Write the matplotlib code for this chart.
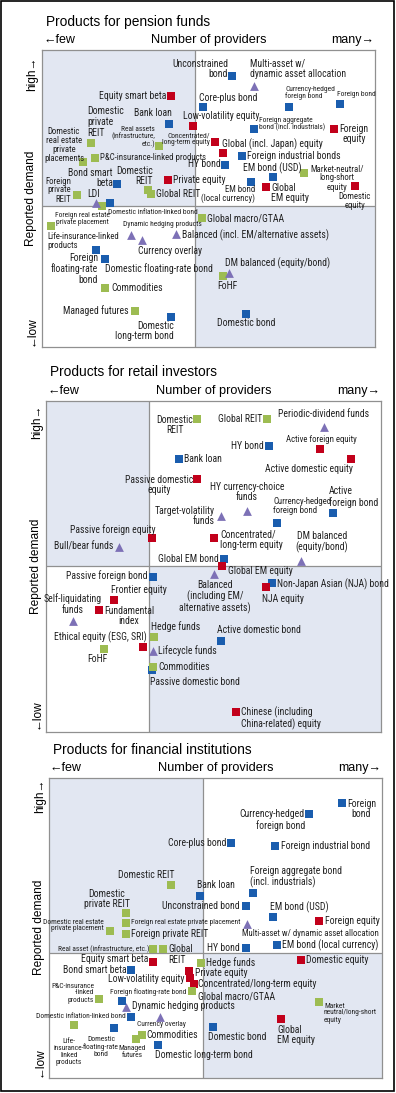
"""
Demand vs. number of providers for investment products (three quadrant panels)
"""
import matplotlib
matplotlib.use("Agg")
import matplotlib.pyplot as plt
from matplotlib import font_manager
from matplotlib.patches import Rectangle

# ---------------- data ----------------
# x = number of providers (score), y = reported demand (score)

pension_names = ["Equity smart beta", "Bank loan", "Low-volatility equity", "Domestic\nprivate\nREIT",
                 "Domestic\nreal estate\nprivate\nplacements", "Real assets\n(infrastructure,\netc.)",
                 "P&C-insurance-linked products", "Concentrated/\nlong-term equity", "Global (incl. Japan) equity",
                 "HY bond", "Unconstrained\nbond", "Multi-asset w/\ndynamic asset allocation",
                 "Currency-hedged\nforeign bond", "Foreign bond", "Core-plus bond",
                 "Foreign aggregate\nbond (incl. industrials)", "Foreign\nequity", "Foreign industrial bonds",
                 "EM bond (USD)", "Market-neutral/\nlong-short\nequity", "EM bond\n(local currency)",
                 "Global\nEM equity", "Domestic\nequity", "Global macro/GTAA",
                 "Balanced (incl. EM/alternative assets)", "DM balanced (equity/bond)", "FoHF", "Domestic bond",
                 "Foreign\nprivate\nREIT", "Bond smart\nbeta", "Domestic\nREIT", "Global REIT", "Private equity",
                 "LDI", "Domestic inflation-linked bond", "Foreign real estate\nprivate placement",
                 "Life-insurance-linked\nproducts", "Dynamic hedging products", "Currency overlay",
                 "Foreign\nfloating-rate\nbond", "Domestic floating-rate bond", "Commodities", "Managed futures",
                 "Domestic\nlong-term bond"]
pension_x = [129, 127, 151, 49, 41, 117, 53, 173, 181, 183, 190, 212, 247, 298, 161, 212, 292, 200, 231, 262,
             209, 224, 313, 160, 134, 187, 181, 204, 35, 75, 106, 109, 126, 54, 68, 60, 9, 89, 100, 54, 63, 63,
             93, 129]
pension_y = [251, 223, 221, 204, 185, 201, 189, 205, 194, 182, 271, 261, 240, 243, 240, 218, 218, 191, 170, 174,
             165, 160, 161, 129, 113, 74, 71, 33, 152, 163, 157, 153, 167, 144, 144, 141, 121, 112, 107, 97, 88,
             59, 36, 30]
pension_kind = ["equity", "bond", "equity", "alt", "alt", "alt", "alt", "equity", "equity", "bond", "bond",
                "multi", "bond", "bond", "bond", "bond", "equity", "bond", "bond", "alt", "bond", "equity",
                "equity", "alt", "multi", "multi", "alt", "bond", "alt", "bond", "alt", "alt", "equity", "multi",
                "bond", "alt", "alt", "multi", "multi", "bond", "bond", "alt", "alt", "bond"]

retail_names = ["Domestic\nREIT", "Bank loan", "Passive domestic\nequity", "Target-volatility\nfunds",
                "Passive foreign equity", "Global REIT", "Periodic-dividend funds", "HY bond",
                "Active foreign equity", "Active domestic equity", "HY currency-choice\nfunds",
                "Currency-hedged\nforeign bond", "Active\nforeign bond", "Concentrated/\nlong-term equity",
                "DM balanced\n(equity/bond)", "Global EM bond", "Global EM equity",
                "Balanced\n(including EM/\nalternative assets)", "Non-Japan Asian (NJA) bond", "NJA equity",
                "Active domestic bond", "Chinese (including\nChina-related) equity", "Bull/bear funds",
                "Passive foreign bond", "Frontier equity", "Fundamental\nindex", "Self-liquidating\nfunds",
                "Hedge funds", "Ethical equity (ESG, SRI)", "FoHF", "Lifecycle funds", "Commodities",
                "Passive domestic bond"]
retail_x = [151, 133, 151, 175, 106, 221, 278, 223, 274, 305, 201, 231, 287, 168, 255, 178, 176, 168, 226, 220,
            175, 190, 73, 107, 68, 53, 27, 108, 97, 58, 107, 107, 106]
retail_y = [313, 273, 253, 216, 194, 313, 305, 286, 283, 273, 221, 209, 219, 194, 171, 173, 166, 158, 149, 145,
            91, 20, 185, 155, 132, 122, 111, 95, 85, 83, 81, 65, 62]
retail_kind = ["alt", "bond", "equity", "multi", "equity", "alt", "multi", "bond", "equity", "equity", "multi",
               "bond", "bond", "equity", "multi", "bond", "equity", "multi", "bond", "equity", "bond", "equity",
               "multi", "bond", "equity", "equity", "multi", "alt", "equity", "alt", "multi", "alt", "bond"]

inst_names = ["Foreign\nbond", "Currency-hedged\nforeign bond", "Core-plus bond", "Foreign industrial bond",
              "Foreign aggregate bond\n(incl. industrials)", "Bank loan", "Domestic REIT", "Domestic\nprivate REIT",
              "Unconstrained bond", "EM bond (USD)", "Foreign equity", "Multi-asset w/ dynamic asset allocation",
              "EM bond (local currency)", "HY bond", "Domestic real estate\nprivate placement",
              "Foreign real estate private placement", "Foreign private REIT", "Real asset (infrastructure, etc.)",
              "Global\nREIT", "Domestic equity", "Equity smart beta", "Hedge funds", "Bond smart beta",
              "Private equity", "Low-volatility equity", "Concentrated/long-term equity", "Global macro/GTAA",
              "P&C-insurance\n-linked\nproducts", "Foreign floating-rate bond", "Dynamic hedging products",
              "Domestic inflation-linked bond", "Currency overlay", "Life-\ninsurance-\nlinked\nproducts",
              "Domestic\nfloating-rate\nbond", "Commodities", "Managed\nfutures", "Domestic long-term bond",
              "Domestic bond", "Global\nEM equity", "Market\nneutral/long-short\nequity"]
inst_x = [293, 260, 182, 226, 204, 151, 122, 77, 197, 224, 270, 198, 228, 197, 61, 77, 77, 104, 114, 252, 104,
          152, 82, 140, 141, 145, 143, 50, 73, 77, 82, 111, 25, 65, 93, 87, 109, 164, 232, 270]
inst_y = [275, 264, 235, 232, 185, 182, 193, 165, 172, 161, 157, 154, 133, 130, 147, 155, 144, 129, 129, 118, 116,
          115, 108, 107, 100, 94, 87, 79, 77, 71, 61, 61, 53, 50, 43, 39, 33, 51, 59, 76]
inst_kind = ["bond", "bond", "bond", "bond", "bond", "bond", "alt", "alt", "bond", "bond", "equity", "multi",
             "bond", "bond", "alt", "alt", "alt", "alt", "alt", "equity", "equity", "alt", "bond", "equity",
             "equity", "equity", "alt", "alt", "bond", "multi", "bond", "multi", "alt", "bond", "alt", "alt",
             "bond", "bond", "equity", "alt"]

# ---------------- layout ----------------
# label offsets from marker in pixels: (dx, dy, ha, size, multialignment)
pension_labels = [(-5, 0, "right", "n", None), (-16, 11, "center", "n", None), (-10, 10, "left", "n", None),
                  (-4, 21, "left", "n", None), (-19, 17, "center", "m", None), (-4, 9, "right", "s", None),
                  (5, 0, "left", "m", None), (-5, 3, "right", "s", None), (-1, 9, "left", "n", None),
                  (-4, 1, "right", "n", None), (-4, 7, "right", "n", None), (-4, 17, "left", "n", None),
                  (-4, 14, "left", "s", None), (-3, 9, "left", "s", None), (-4, 9, "left", "n", None),
                  (5, 5, "left", "s", None), (20, -5, "center", "n", None), (5, 0, "left", "n", None),
                  (-1, 9, "center", "n", None), (6, -5, "left", "m", "center"), (4, -12, "right", "m", None),
                  (5, -6, "left", "n", None), (0, -15, "center", "m", None), (5, 0, "left", "n", None),
                  (6, -1, "left", "n", None), (-4, 10, "left", "n", None), (4, -10, "center", "n", None),
                  (0, -9, "center", "n", None), (-6, 5, "right", "m", None), (-4, 6, "right", "n", None),
                  (5, 14, "right", "n", None), (5, 0, "left", "n", None), (5, 0, "left", "n", None),
                  (-2, 9, "center", "n", None), (-2, -10, "left", "s", None), (-20, -13, "center", "s", None),
                  (-4, -15, "left", "m", None), (-8, 11, "left", "s", None), (-4, -11, "left", "n", None),
                  (2, -19, "right", "n", None), (0, -10, "left", "n", None), (6, 0, "left", "n", None),
                  (-6, 0, "right", "n", None), (3, -14, "right", "n", None)]
retail_labels = [(-4, -6, "right", "n", "center"), (5, 0, "left", "n", None), (-4, -6, "right", "n", "center"),
                 (-6, 0, "right", "n", None), (3, 8, "right", "n", None), (-5, 0, "right", "n", None),
                 (0, 13, "center", "n", None), (-5, 0, "right", "n", None), (1, 10, "center", "m", None),
                 (2, -10, "right", "n", None), (0, 19, "center", "n", None), (-4, 17, "left", "m", None),
                 (-4, 16, "left", "n", None), (6, -2, "left", "n", None), (21, 19, "center", "n", None),
                 (-5, 0, "right", "n", None), (6, -5, "left", "n", None), (1, -23, "center", "n", None),
                 (5, -1, "left", "n", None), (-4, -12, "left", "n", None), (-4, 11, "left", "n", None),
                 (5, -6, "left", "n", None), (-6, 0, "right", "n", None), (-5, 1, "right", "n", None),
                 (-3, 10, "left", "n", None), (5, -6, "left", "n", "center"), (0, 17, "center", "n", None),
                 (-3, 10, "left", "n", None), (4, 10, "right", "n", None), (-7, -10, "center", "n", None),
                 (5, 0, "left", "n", None), (5, 0, "left", "n", None), (-2, -12, "left", "n", None)]
inst_labels = [(5, -6, "left", "n", "center"), (-4, -6, "right", "n", None), (-5, 0, "right", "n", None),
               (6, 0, "left", "n", None), (-3, 16, "left", "n", None), (-3, 11, "left", "n", None),
               (4, 10, "right", "n", None), (4, 14, "right", "n", "center"), (-6, 0, "right", "n", None),
               (-3, 10, "left", "n", None), (6, 0, "left", "n", None), (-5, -9, "left", "m", None),
               (5, 0, "left", "n", None), (-6, 0, "right", "n", None), (-6, 5.5, "right", "s", None),
               (5, 0, "left", "s", None), (5, 0, "left", "n", None), (-4, 0, "right", "s", None),
               (5, -5.5, "left", "n", None), (5, 0, "left", "n", None), (-5, 3, "right", "n", None),
               (5, 0, "left", "n", None), (-4, 0, "right", "n", None), (6, -2, "left", "n", None),
               (-6, -1, "right", "n", None), (4, 0, "left", "n", None), (6, -6, "left", "n", None),
               (-5, 6, "right", "s", None), (-12, 9, "left", "s", None), (6, 1, "left", "n", None),
               (-5, 1, "right", "s", None), (-23, -7, "left", "s", None), (-5, -27, "center", "s", "center"),
               (5, -19, "right", "s", "center"), (4, 0, "left", "n", None), (-4, -13, "center", "s", "center"),
               (-3, -10, "left", "n", None), (-5, -10, "left", "n", None), (-4, -16, "left", "n", None),
               (5, -11, "left", "s", None)]

W, H = 396, 1093
colors = {"bond": "#1a5dae", "equity": "#c2001b", "alt": "#9dbc52", "multi": "#7d71b6"}
markers = {"bond": "s", "equity": "s", "alt": "s", "multi": "^"}
msize = {"bond": 26, "equity": 26, "alt": 28, "multi": 40}
shade = "#e2e7f2"
edge = "#909090"

installed = {f.name for f in font_manager.fontManager.ttflist}
narrow = next((f for f in ["Liberation Sans Narrow", "Roboto Condensed", "Open Sans Condensed",
                           "DejaVu Sans Condensed"] if f in installed), "Liberation Sans")
fs = {"n": 7.0, "m": 6.3, "s": 5.4}
plain = ["Liberation Sans", "DejaVu Sans"]

fig = plt.figure(figsize=(W / 100, H / 100), dpi=100)


def fx(px):
    return px / W


def fy(py):
    return 1 - py / H


def draw_panel(box, vsplit, hsplit, names, xs, ys, kinds, labels):
    left, top, right, bottom = box
    w, h = right - left, bottom - top
    ax = fig.add_axes([fx(left), fy(bottom), w / W, h / H])
    ax.set_xlim(0, w)
    ax.set_ylim(0, h)
    ax.set_xticks([])
    ax.set_yticks([])
    for s in ax.spines.values():
        s.set_color(edge)
        s.set_linewidth(0.9)
    ax.add_patch(Rectangle((0, hsplit), vsplit, h - hsplit, color=shade, zorder=0, lw=0))
    ax.add_patch(Rectangle((vsplit, 0), w - vsplit, hsplit, color=shade, zorder=0, lw=0))
    ax.axvline(vsplit, color=edge, lw=0.9, zorder=1)
    ax.axhline(hsplit, color=edge, lw=0.9, zorder=1)
    for k in colors:
        px = [x for x, kk in zip(xs, kinds) if kk == k]
        py = [y for y, kk in zip(ys, kinds) if kk == k]
        ax.scatter(px, py, marker=markers[k], s=msize[k], color=colors[k], linewidths=0, zorder=3)
    for name, x, y, (dx, dy, ha, sz, ma) in zip(names, xs, ys, labels):
        ax.annotate(name, (x, y), xytext=(dx, dy), textcoords="offset pixels", ha=ha, va="center",
                    multialignment=ma if ma else ha, fontsize=fs[sz],
                    family=[narrow, "DejaVu Sans"], linespacing=1.08 if sz == "n" else 1.0,
                    color="#222222", zorder=4)
    return ax


def panel_text(title, box, ty, ay, ylab_x, ylab_y, hi_y, lo_y):
    left, top, right, bottom = box
    fig.text(fx(left + 4), fy(ty), title, fontsize=9.9, family=plain, va="center", ha="left")
    fig.text(fx(left + 1), fy(ay), "\u2190few", fontsize=9.0, family=plain, va="center", ha="left")
    fig.text(fx((left + right) / 2), fy(ay), "Number of providers", fontsize=9.2, family=plain,
             va="center", ha="center")
    fig.text(fx(right - 1), fy(ay), "many\u2192", fontsize=9.0, family=plain, va="center", ha="right")
    fig.text(fx(ylab_x), fy(ylab_y), "Reported demand", fontsize=8.6, family=plain, va="center",
             ha="center", rotation=90)
    fig.text(fx(ylab_x + 1), fy(hi_y), "high\u2192", fontsize=8.6, family=plain, va="center",
             ha="center", rotation=90)
    fig.text(fx(ylab_x + 1), fy(lo_y), "\u2190low", fontsize=8.6, family=plain, va="center",
             ha="center", rotation=90)


box1 = (42, 50, 375, 347)
box2 = (46, 401, 381, 732)
box3 = (49, 778, 382, 1078)

draw_panel(box1, 153, 141, pension_names, pension_x, pension_y, pension_kind, pension_labels)
draw_panel(box2, 103, 166, retail_names, retail_x, retail_y, retail_kind, retail_labels)
draw_panel(box3, 154, 125, inst_names, inst_x, inst_y, inst_kind, inst_labels)

panel_text("Products for pension funds", box1, 22, 40, 31, 198, 74, 331)
panel_text("Products for retail investors", box2, 372, 391, 36, 566, 422, 714)
panel_text("Products for financial institutions", box3, 750, 768, 39, 927, 796, 1062)

# outer frame
fig.patches.append(Rectangle((fx(1), fy(1091)), 393 / W, 1090 / H, transform=fig.transFigure,
                             fill=False, edgecolor="black", lw=1.2))

fig.savefig("out.png", dpi=100)
